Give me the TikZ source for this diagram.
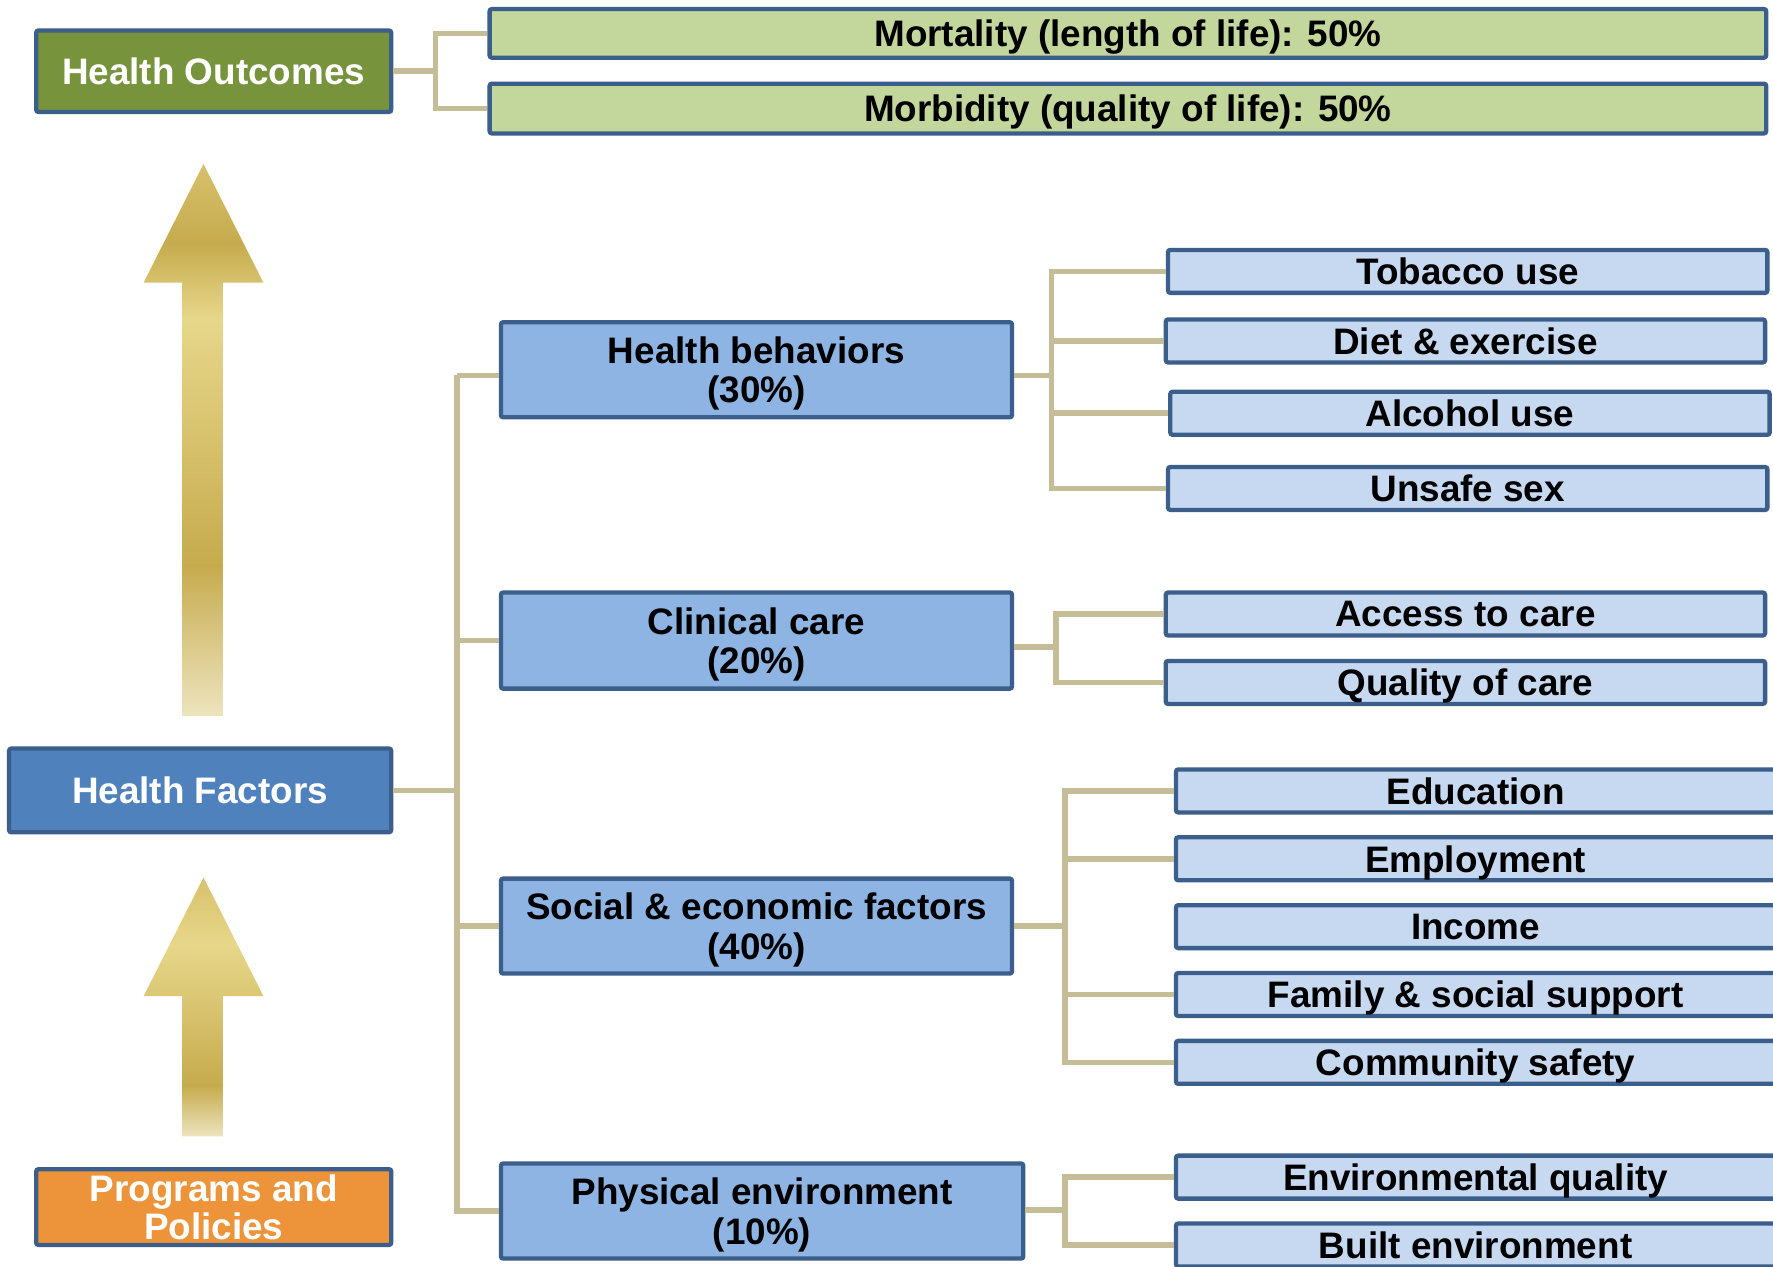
\documentclass[tikz,border=0pt]{standalone}
\usepackage{fontspec}
\setmainfont{Liberation Sans}
\definecolor{bord}{RGB}{59,94,139}
\definecolor{hogreen}{RGB}{119,147,60}
\definecolor{lgreen}{RGB}{195,214,155}
\definecolor{hfblue}{RGB}{79,129,189}
\definecolor{midblue}{RGB}{141,180,226}
\definecolor{leafblue}{RGB}{198,217,241}
\definecolor{orng}{RGB}{237,148,59}
\definecolor{tanc}{RGB}{196,189,151}
\definecolor{gpale}{RGB}{237,228,190}
\definecolor{gdark}{RGB}{198,171,78}
\definecolor{glight}{RGB}{231,215,138}
\definecolor{gtip}{RGB}{215,193,108}
\pgfdeclareverticalshading{arrowA}{100bp}{color(0bp)=(gpale); color(25bp)=(gpale); color(38.6bp)=(gdark); color(61bp)=(glight); color(67.8bp)=(gdark); color(75bp)=(gtip); color(100bp)=(gtip)}
\pgfdeclareverticalshading{arrowB}{100bp}{color(0bp)=(gpale); color(25bp)=(gpale); color(34.8bp)=(gdark); color(62bp)=(glight); color(75bp)=(gtip); color(100bp)=(gtip)}
\begin{document}
\begin{tikzpicture}[x=0.5pt,y=-0.5pt,
  box/.style={draw=bord, line width=1.9pt, rounded corners=1pt, inner sep=0pt, align=center, text depth=0pt, font=\fontsize{16.3}{17.5}\selectfont\bfseries},
  leaf/.style={box, fill=leafblue, minimum width=265pt, minimum height=19pt},
  mid/.style={box, fill=midblue, minimum width=226pt, minimum height=42pt},
  outc/.style={box, fill=lgreen, minimum width=564.5pt, minimum height=21.5pt},
  wbox/.style={box, text=white, minimum width=157pt},
  conn/.style={draw=tanc, line width=2.5pt}]
\useasboundingbox (0,0) rectangle (1568,1120);

% arrows
\shade[shading=arrowA] (180,145) -- (233,250) -- (197,250) -- (197,633) -- (161,633) -- (161,250) -- (127,250) -- cycle;
\shade[shading=arrowB] (180,776) -- (233,881) -- (197,881) -- (197,1005) -- (161,1005) -- (161,881) -- (127,881) -- cycle;

% left column
\node[wbox, fill=hogreen, minimum height=36pt] (HO) at (189,63) {Health Outcomes};
\node[wbox, fill=hfblue, minimum width=169pt, minimum height=37pt] (HF) at (177,699) {Health Factors};
\node[wbox, fill=orng, minimum height=33.5pt, font=\fontsize{16.3}{16.5}\selectfont\bfseries] (PP) at (189,1067.5) {Programs and\\Policies};

% outcomes
\node[outc] (mort) at (997.5,29.5) {Mortality (length of life): 50\%};
\node[outc, minimum height=22pt] (morb) at (997.5,96) {Morbidity (quality of life): 50\%};

% mid boxes
\node[mid] (HB) at (669,327) {Health behaviors\\(30\%)};
\node[mid, minimum height=42.5pt] (CC) at (669,566.5) {Clinical care\\(20\%)};
\node[mid] (SE) at (669,819) {Social \& economic factors\\(40\%)};
\node[mid, minimum width=231pt] (PE) at (674,1071) {Physical environment\\(10\%)};

% leaves
\node[leaf] (tob) at (1298,240) {Tobacco use};
\node[leaf] (diet) at (1296,301.5) {Diet \& exercise};
\node[leaf] (alc) at (1300,365.5) {Alcohol use};
\node[leaf] (uns) at (1298,432) {Unsafe sex};
\node[leaf] (acc) at (1296,543) {Access to care};
\node[leaf] (qual) at (1296,603.5) {Quality of care};
\node[leaf] (edu) at (1305,699.5) {Education};
\node[leaf] (emp) at (1305,759.5) {Employment};
\node[leaf] (inc) at (1305,819.5) {Income};
\node[leaf] (fam) at (1305,879.5) {Family \& social support};
\node[leaf] (com) at (1305,939.5) {Community safety};
\node[leaf] (env) at (1305,1041) {Environmental quality};
\node[leaf] (blt) at (1305,1101) {Built environment};

% connector junctions
\coordinate (b0) at (385,63);
\coordinate (t0) at (404,699);
\coordinate (g1) at (930,332);
\coordinate (g2) at (934,572);
\coordinate (g3) at (942,819);
\coordinate (g4) at (942,1070);

% connectors
\draw[conn] (HO.east) -- (b0);
\draw[conn] (mort.west) -| (b0) |- (morb.west);

\draw[conn] (HF.east) -- (t0);
\draw[conn] (t0 |- 0,332) -- (HB.west |- 0,332);
\draw[conn] (t0 |- 0,332) -- (t0) |- (PE.west);
\draw[conn] (t0 |- CC.west) -- (CC.west);
\draw[conn] (t0 |- SE.west) -- (SE.west);

\draw[conn] (HB.east |- g1) -- (g1);
\draw[conn] (tob.west) -| (g1) |- (uns.west);
\draw[conn] (g1 |- diet.west) -- (diet.west);
\draw[conn] (g1 |- alc.west) -- (alc.west);

\draw[conn] (CC.east |- g2) -- (g2);
\draw[conn] (acc.west) -| (g2) |- (qual.west);

\draw[conn] (SE.east) -- (g3);
\draw[conn] (edu.west) -| (g3) |- (com.west);
\draw[conn] (g3 |- emp.west) -- (emp.west);
\draw[conn] (g3 |- fam.west) -- (fam.west);

\draw[conn] (PE.east |- g4) -- (g4);
\draw[conn] (env.west) -| (g4) |- (blt.west);
\end{tikzpicture}
\end{document}
